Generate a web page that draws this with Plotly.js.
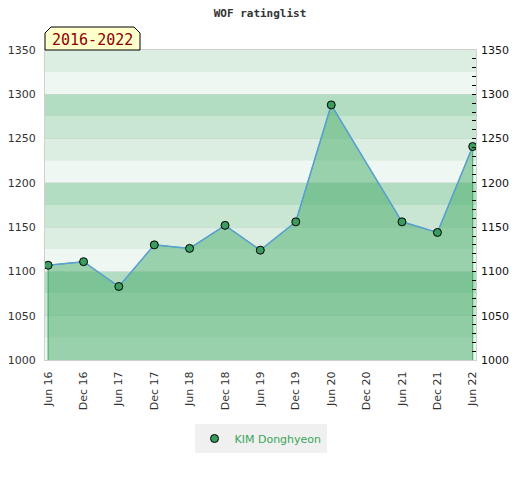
<!DOCTYPE html>
<html>
<head>
<meta charset="utf-8">
<script src="https://cdn.plot.ly/plotly-3.0.1.min.js"></script>
<style>html,body{margin:0;padding:0;background:#fff;}#chart{width:520px;height:480px;}</style>
</head>
<body>
<div id="chart"></div>
<script>
var seriesName = 'KIM Donghyeon';
var dates = ['2016-06-01','2016-12-01','2017-06-01','2017-12-01','2018-06-01','2018-12-01','2019-06-01','2019-12-01','2020-06-01','2021-06-01','2021-12-01','2022-06-01'];
var ratings = [1107, 1111, 1083, 1130, 1126, 1152, 1124, 1156, 1288, 1156, 1144, 1241];
var tickDates = ['2016-06-01','2016-12-01','2017-06-01','2017-12-01','2018-06-01','2018-12-01','2019-06-01','2019-12-01','2020-06-01','2020-12-01','2021-06-01','2021-12-01','2022-06-01'];
var tickLabels = ['Jun 16','Dec 16','Jun 17','Dec 17','Jun 18','Dec 18','Jun 19','Dec 19','Jun 20','Dec 20','Jun 21','Dec 21','Jun 22'];
var yTicks = [1000, 1050, 1100, 1150, 1200, 1250, 1300, 1350];
var periodLabel = '2016-2022';
var chartTitle = 'WOF ratinglist';

var yMin = yTicks[0], yMax = yTicks[yTicks.length - 1];
var bandColors = ['#eff7f2', '#dbeee1', '#c8e6d2', '#b3ddc2'];
var shapes = [];
for (var v = yMin, i = 0; v < yMax; v += 25, i++) {
  shapes.push({type:'rect', xref:'paper', yref:'y', x0:0, x1:1, y0:v, y1:v+25,
    fillcolor: bandColors[i % 4], line:{width:0}, layer:'below'});
}
// tab with cut corners
function px(x){ return (x-45)/431; }
function py(y){ return (360-y)/310; }
shapes.push({type:'path', xref:'paper', yref:'paper',
  path:'M'+px(45)+','+py(50)+' L'+px(45)+','+py(33)+' L'+px(51)+','+py(27)+' L'+px(134)+','+py(27)+' L'+px(140)+','+py(33)+' L'+px(140)+','+py(50)+' Z',
  fillcolor:'#ffffcc', line:{color:'#000', width:1}, layer:'above'});

var polyX = [dates[0]].concat(dates, [dates[dates.length-1]]);
var polyY = [yMin].concat(ratings, [yMin]);

var traces = [
  {x: polyX, y: polyY, type:'scatter', mode:'lines', fill:'toself',
   fillcolor:'rgba(70,172,104,0.5)', line:{color:'#3aa85a', width:1},
   hoverinfo:'skip', showlegend:false},
  {x: dates, y: ratings, type:'scatter', mode:'lines',
   line:{color:'#5a9fd6', width:1.5}, showlegend:false, hoverinfo:'skip'},
  {x: dates, y: ratings, type:'scatter', mode:'markers', name: seriesName,
   marker:{size:8, color:'#3a9d5d', line:{color:'#000', width:1}}},
  {x: dates, y: ratings, type:'scatter', mode:'markers', yaxis:'y2',
   marker:{opacity:0}, showlegend:false, hoverinfo:'skip'}
];

var layout = {
  width:520, height:480,
  margin:{l:45, r:44, t:50, b:120},
  paper_bgcolor:'#fff', plot_bgcolor:'#fff',
  font:{family:'DejaVu Sans', size:11, color:'#333'},
  title:{text: chartTitle, x:0.5, xanchor:'center', y:1-13/480, yanchor:'middle', yref:'container',
         font:{family:'DejaVu Sans Mono', size:11, weight:'bold', color:'#333'}},
  xaxis:{type:'date', range:['2016-05-16','2022-06-18'], tickvals: tickDates, ticktext: tickLabels,
         tickangle:-90, showgrid:false, zeroline:false, showline:true, linecolor:'#d0d0d0', linewidth:1,
         mirror:true, ticks:'', ticklabelstandoff:6, tickfont:{size:11, color:'#333'}, fixedrange:true},
  yaxis:{range:[yMin, yMax], tickvals: yTicks, showgrid:true, gridcolor:'rgba(0,0,0,0.07)', zeroline:false,
         showline:true, linecolor:'#d0d0d0', mirror:true, ticks:'', ticklabelstandoff:6,
         tickfont:{size:11, color:'#333'}},
  yaxis2:{range:[yMin, yMax], tickvals: yTicks, overlaying:'y', side:'right', showgrid:false, zeroline:false,
          showline:false, ticks:'inside', ticklen:4, tickcolor:'#000', tickwidth:1,
          minor:{dtick:10, ticks:'inside', ticklen:4, tickcolor:'#000', tickwidth:1, showgrid:false},
          ticklabelstandoff:4, tickfont:{size:11, color:'#111'}},
  legend:{orientation:'h', x:0.5, xanchor:'center', y:py(424), yanchor:'top',
          bgcolor:'#f0f0f0', font:{size:11, color:'#3aa55a'}},
  shapes: shapes,
  annotations:[{text: periodLabel, xref:'paper', yref:'paper', x:px(92.5), y:py(40), xanchor:'center', yanchor:'middle',
                showarrow:false, font:{family:'DejaVu Sans Mono', size:15, color:'#8b0000'}}]
};
Plotly.newPlot('chart', traces, layout, {displayModeBar:false, staticPlot:true});
</script>
</body>
</html>
